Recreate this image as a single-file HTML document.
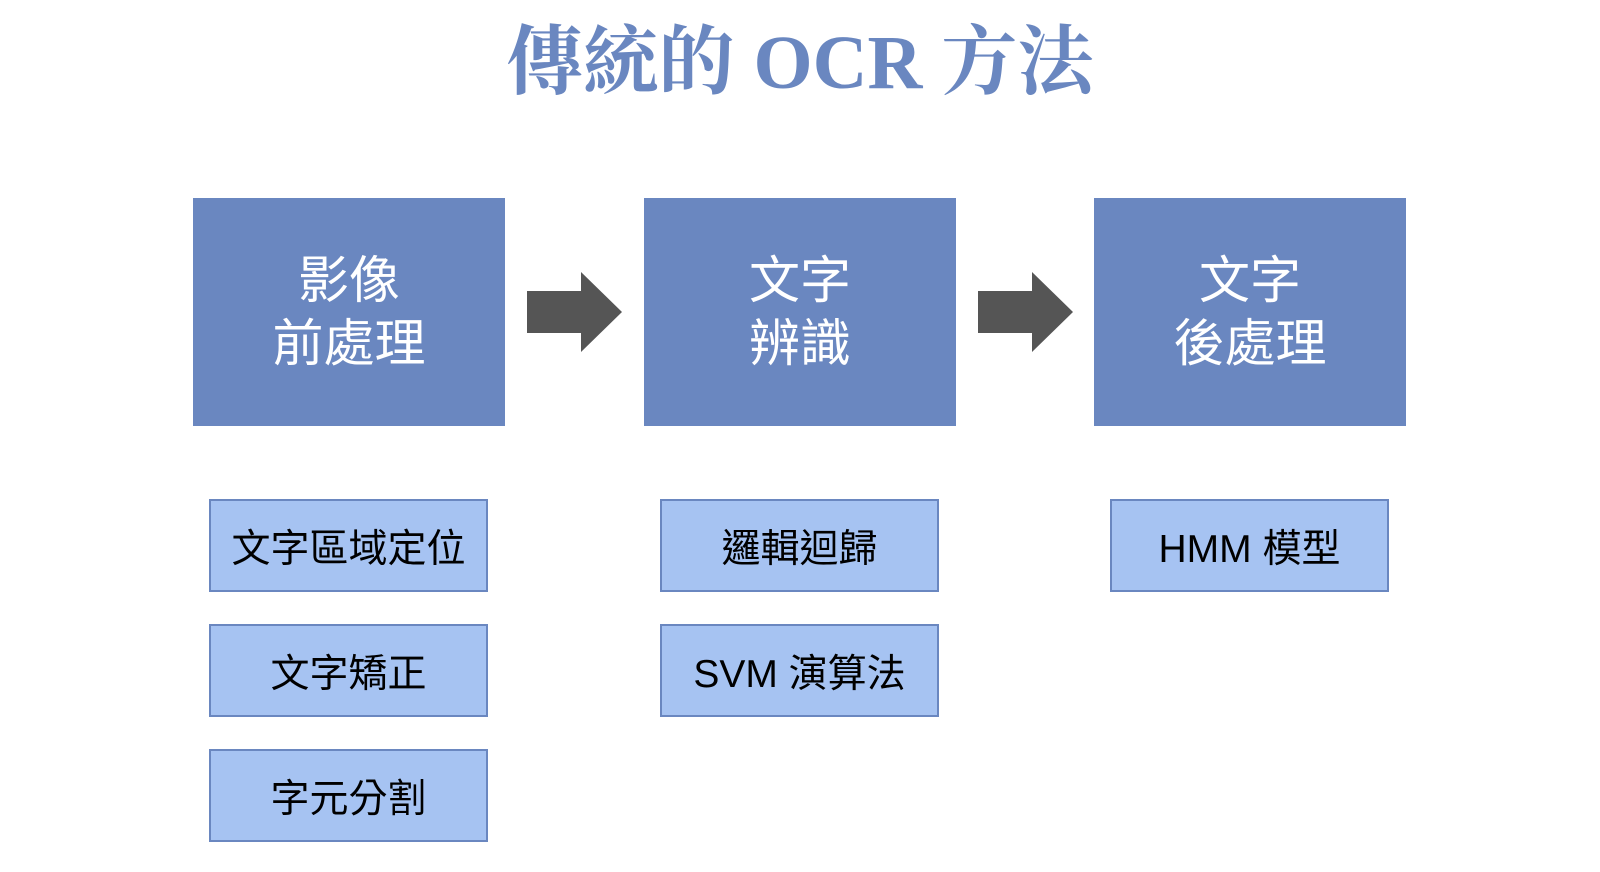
<!DOCTYPE html>
<html><head><meta charset="utf-8"><style>
body{margin:0;width:1600px;height:872px;background:#fff;position:relative;overflow:hidden;font-family:"Liberation Sans","Noto Sans CJK TC",sans-serif}
.t{position:absolute;left:0;width:1600px;top:13px;text-align:center;font-family:"Liberation Serif","Noto Serif CJK SC",serif;font-weight:bold;font-size:76px;color:#6a87c0;line-height:100px}
.b{position:absolute;top:198px;width:312px;height:228px;background:#6a87c0;color:#fff;font-size:51px;line-height:63px;display:flex;align-items:center;justify-content:center;text-align:center}
.s{position:absolute;width:279px;height:93px;background:#a6c3f2;border:2px solid #6a87c0;box-sizing:border-box;font-size:39px;display:flex;align-items:center;justify-content:center;color:#000}
</style></head><body>
<div class="t">傳統的 OCR 方法</div>
<div class="b" style="left:193px">影像<br>前處理</div>
<div class="b" style="left:644px">文字<br>辨識</div>
<div class="b" style="left:1094px">文字<br>後處理</div>
<svg width="1600" height="872" style="position:absolute;left:0;top:0">
<polygon points="527,291 581,291 581,272 622,312 581,352 581,333 527,333" fill="#555"/>
<polygon points="978,291 1032,291 1032,272 1073,312 1032,352 1032,333 978,333" fill="#555"/>
</svg>
<div class="s" style="left:209px;top:499px">文字區域定位</div>
<div class="s" style="left:209px;top:624px">文字矯正</div>
<div class="s" style="left:209px;top:749px">字元分割</div>
<div class="s" style="left:660px;top:499px">邏輯迴歸</div>
<div class="s" style="left:660px;top:624px">SVM 演算法</div>
<div class="s" style="left:1110px;top:499px">HMM 模型</div>
</body></html>
